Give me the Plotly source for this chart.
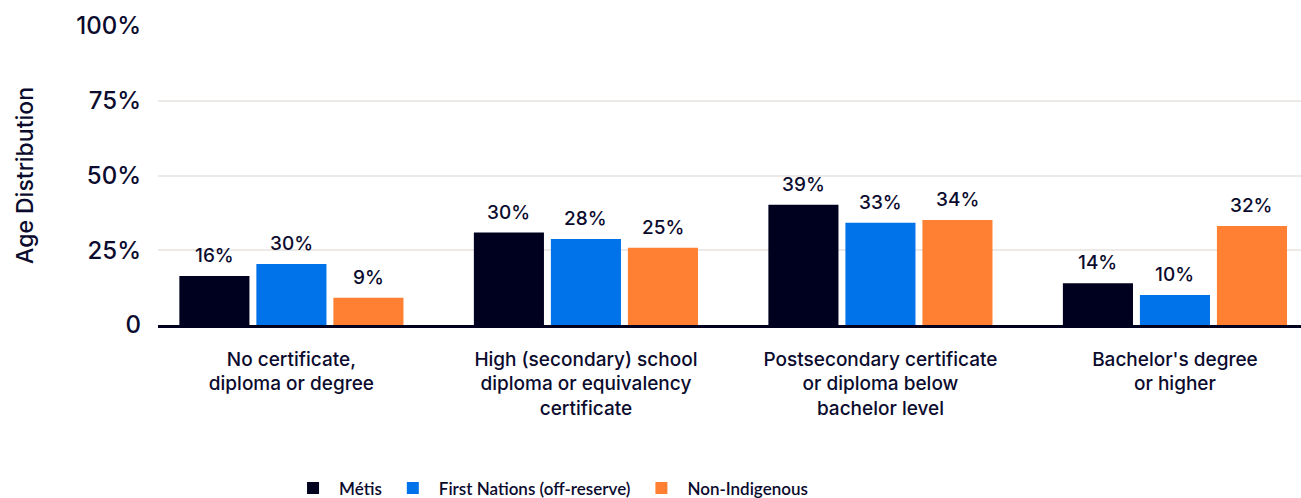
import plotly.graph_objects as go

categories = [
    "No certificate,<br>diploma or degree",
    "High (secondary) school<br>diploma or equivalency<br>certificate",
    "Postsecondary certificate<br>or diploma below<br>bachelor level",
    "Bachelor's degree<br>or higher",
]
series_names = ["Métis", "First Nations (off-reserve)", "Non-Indigenous"]
metis_values = [16.4, 30.9, 40.2, 14.0]
first_nations_values = [20.4, 28.8, 34.2, 10.0]
non_indigenous_values = [9.1, 25.8, 35.1, 33.1]
metis_labels = ["16%", "30%", "39%", "14%"]
first_nations_labels = ["30%", "28%", "33%", "10%"]
non_indigenous_labels = ["9%", "25%", "34%", "32%"]
y_tick_values = [0, 25, 50, 75, 100]
y_tick_labels = ["0", "25%", "50%", "75%", "100%"]

colors = ["#00001f", "#0073ea", "#ff8033"]
text_color = "#0b0b2e"
font_family = "Inter, Lato, sans-serif"
legend_font = "Lato, Inter, sans-serif"

all_values = [metis_values, first_nations_values, non_indigenous_values]
all_labels = [metis_labels, first_nations_labels, non_indigenous_labels]

bargap = 0.2155
bargroupgap = 0.09

fig = go.Figure()
for name, vals, col in zip(series_names, all_values, colors):
    fig.add_trace(go.Bar(
        x=categories, y=vals, name=name, marker=dict(color=col, line=dict(width=0)),
        hoverinfo="skip",
    ))

slot = (1 - bargap) / 3
annotations = []
for j, (vals, labs) in enumerate(zip(all_values, all_labels)):
    for i, (v, lab) in enumerate(zip(vals, labs)):
        annotations.append(dict(
            x=i + (j - 1) * slot, y=v, xref="x", yref="y",
            text=lab, showarrow=False, yanchor="bottom", yshift=7,
            font=dict(family=font_family, size=19, color=text_color, weight=500),
        ))

fig.update_layout(
    width=1301, height=498,
    margin=dict(l=158, r=0, t=26, b=173, autoexpand=False),
    paper_bgcolor="white", plot_bgcolor="white",
    barmode="group", bargap=bargap, bargroupgap=bargroupgap,
    font=dict(family=font_family, color=text_color),
    showlegend=True,
    legend=dict(
        orientation="h", x=0.343, xanchor="center", y=-0.547, yanchor="middle",
        itemwidth=42,
        font=dict(family=legend_font, size=17, color=text_color, weight=600),
        itemclick=False, itemdoubleclick=False,
    ),
    annotations=annotations,
    xaxis=dict(
        range=[-0.453, 3.428], showgrid=False,
        showline=True, linecolor="#00001f", linewidth=2.5,
        tickfont=dict(family=font_family, size=19, color=text_color, weight=500),
        ticks="outside", ticklen=15, tickcolor="rgba(0,0,0,0)",
    ),
    yaxis=dict(
        range=[0, 100], tickvals=y_tick_values, ticktext=y_tick_labels,
        showgrid=True, gridcolor="#ede9e6", gridwidth=2,
        zeroline=False, showline=False,
        tickfont=dict(family=font_family, size=24, color=text_color, weight=500),
        ticklabelstandoff=16,
        title=dict(text="Age Distribution", standoff=36,
                   font=dict(family=font_family, size=23, color=text_color, weight=500)),
    ),
)

fig.write_html("out.html")
